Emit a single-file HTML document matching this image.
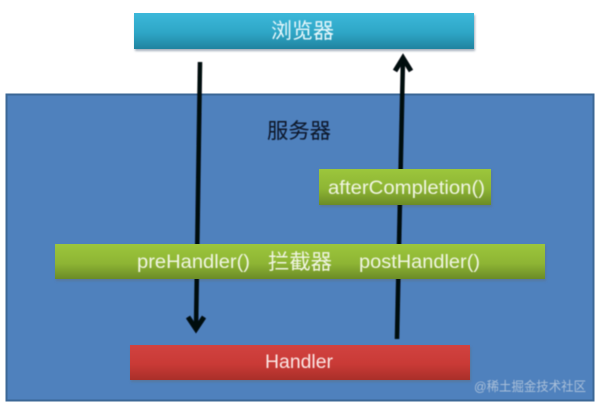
<!DOCTYPE html>
<html>
<head>
<meta charset="utf-8">
<style>
html,body{margin:0;padding:0;background:#fff;width:600px;height:405px;overflow:hidden}
svg{display:block}
text{font-family:"Liberation Sans","Noto Sans CJK SC",sans-serif}
</style>
</head>
<body>
<svg width="600" height="405" viewBox="0 0 600 405" xmlns="http://www.w3.org/2000/svg">
<defs>
<linearGradient id="b" x1="0" y1="0" x2="0" y2="1"><stop offset="0" stop-color="#3cb8da"/><stop offset=".55" stop-color="#2ea6c6"/><stop offset="1" stop-color="#20839f"/></linearGradient>
<linearGradient id="g" x1="0" y1="0" x2="0" y2="1"><stop offset="0" stop-color="#9cc63c"/><stop offset=".55" stop-color="#8eb534"/><stop offset="1" stop-color="#6b8b26"/></linearGradient>
<linearGradient id="r" x1="0" y1="0" x2="0" y2="1"><stop offset="0" stop-color="#d14240"/><stop offset=".55" stop-color="#c93a36"/><stop offset="1" stop-color="#a92f29"/></linearGradient>
<filter id="s" x="-5%" y="-20%" width="110%" height="150%"><feGaussianBlur stdDeviation="1"/></filter>
<filter id="t" x="-5%" y="-20%" width="110%" height="140%"><feGaussianBlur stdDeviation=".4"/></filter>
</defs>

<rect x="6.5" y="94.5" width="587" height="306" fill="#4f81bd" stroke="#3b6796" stroke-width="2"/>

<g fill="#5b6f86" opacity=".55" filter="url(#s)">
<rect x="135" y="15" width="340" height="36"/>
<rect x="320" y="171" width="172" height="36"/>
<rect x="56" y="246" width="490" height="35"/>
<rect x="131" y="347" width="340" height="35"/>
</g>

<rect x="134" y="13" width="340" height="36" fill="url(#b)"/>

<g stroke="#04070f" fill="none" stroke-width="4.5" filter="url(#t)">
<line x1="200" y1="62" x2="196" y2="330"/>
<polyline points="188,317 196,329 204,317" stroke-width="5"/>
<line x1="397" y1="339" x2="403" y2="58"/>
<polyline points="395,71 403,58 411,71" stroke-width="5"/>
</g>

<rect x="319" y="169" width="172" height="36" fill="url(#g)"/>
<rect x="55" y="244" width="490" height="35" fill="url(#g)"/>
<rect x="130" y="345" width="340" height="35" fill="url(#r)"/>

<g filter="url(#t)">
<text x="271" y="38" font-size="21" fill="#e8f8fc" textLength="63" lengthAdjust="spacingAndGlyphs">浏览器</text>
<text x="267" y="138" font-size="21" fill="#071426" textLength="64" lengthAdjust="spacingAndGlyphs">服务器</text>
<text x="328" y="194" font-size="19" fill="#f0f5e2" textLength="157" lengthAdjust="spacingAndGlyphs">afterCompletion()</text>
<text x="137" y="268" font-size="19" fill="#f0f5e2" textLength="113" lengthAdjust="spacingAndGlyphs">preHandler()</text>
<text x="268" y="269" font-size="21" fill="#f0f5e2" textLength="64" lengthAdjust="spacingAndGlyphs">拦截器</text>
<text x="359" y="268" font-size="19" fill="#f0f5e2" textLength="121" lengthAdjust="spacingAndGlyphs">postHandler()</text>
<text x="265" y="368" font-size="19" fill="#fbe6e4" textLength="68" lengthAdjust="spacingAndGlyphs">Handler</text>
<text x="474" y="391" font-size="13" fill="#a9bfd9" textLength="112" lengthAdjust="spacingAndGlyphs">@稀土掘金技术社区</text>
</g>
</svg>
</body>
</html>
